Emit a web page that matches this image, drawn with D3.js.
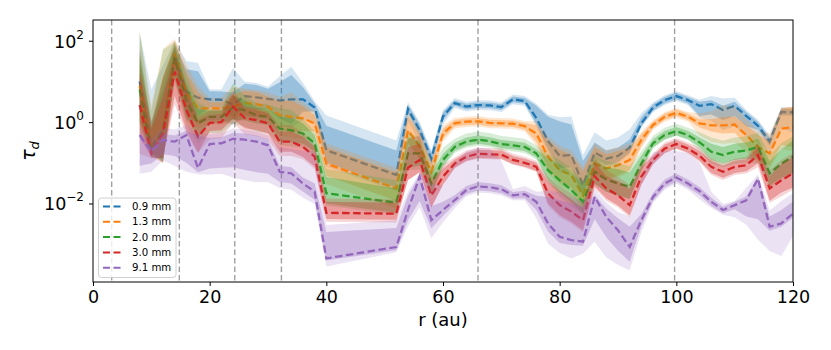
<!DOCTYPE html>
<meta charset="utf-8">
<script src="https://d3js.org/d3.v7.min.js"></script>
<style>
body { margin: 0; background: #fff; }
text { font-family: "DejaVu Sans", sans-serif; }
</style>
<div id="chart"></div>
<script>
// radius grid (au); no samples between 40 and 52
const radius = [8,10,12,14,16,18,20,22,24,26,28,30,32,34,36,38,40,
  52,54,56,58,60,62,64,66,68,70,72,74,76,78,80,82,84,86,88,90,92,94,96,98,100,102,104,106,108,110,112,114,116,118,120];

const labels = ["0.9 mm", "1.3 mm", "2.0 mm", "3.0 mm", "9.1 mm"];
const colors = ["#1f77b4", "#ff7f0e", "#2ca02c", "#d62728", "#9467bd"];
const gapRadii = [3.2, 14.8, 24.3, 32.3, 66.0, 99.7];

// log10 of tau_d
const logTau09 = [1.0,-0.6,-0.2,1.65,0.75,0.6,0.56,0.55,0.43,0.64,0.61,0.57,0.53,0.56,0.56,0.36,-0.69,
  -1.3,0.32,-0.2,-0.9,0.14,0.47,0.38,0.42,0.41,0.37,0.56,0.52,0.1,-0.47,-0.83,-0.81,-1.55,-0.75,-0.9,-0.83,-0.63,-0.03,0.36,0.54,0.64,0.54,0.4,0.44,0.3,0.4,0.15,-0.09,-0.48,0.25,0.24];
const logTau13 = [0.9,-0.7,-0.2,1.69,0.72,0.34,0.34,0.34,0.38,0.47,0.44,0.38,0.17,0.13,0.09,-0.03,-1.02,
  -1.63,-0.2,-0.6,-1.22,-0.28,-0.03,0.01,0.02,-0.02,-0.03,-0.04,-0.1,-0.28,-0.85,-1.18,-1.3,-1.8,-1.02,-1.14,-1.06,-0.93,-0.44,-0.07,0.13,0.23,0.13,-0.03,-0.08,-0.08,-0.06,-0.32,-0.61,-0.77,-0.16,-0.12];
const logTau20 = [0.8,-0.72,-0.22,1.57,0.54,-0.03,0.13,0.13,0.36,0.29,0.17,0.13,-0.16,-0.2,-0.28,-0.52,-1.75,
  -1.98,-0.77,-0.77,-1.51,-0.93,-0.61,-0.48,-0.43,-0.47,-0.54,-0.57,-0.61,-0.77,-1.18,-1.43,-1.67,-1.96,-1.22,-1.41,-1.51,-1.59,-1.02,-0.52,-0.32,-0.22,-0.32,-0.5,-0.73,-0.81,-0.73,-0.7,-0.61,-1.26,-1.02,-0.85];
const logTau30 = [0.42,-0.77,-0.28,1.24,0.3,-0.36,-0.02,0.0,0.38,0.1,0.05,-0.03,-0.48,-0.48,-0.61,-0.85,-2.23,
  -2.25,-1.12,-0.93,-1.8,-1.34,-1.02,-0.85,-0.78,-0.79,-0.8,-0.93,-1.0,-1.1,-1.75,-2.04,-2.2,-2.41,-1.33,-1.63,-1.8,-2.04,-1.34,-0.93,-0.65,-0.54,-0.65,-0.83,-1.1,-1.22,-1.1,-1.06,-0.81,-1.63,-1.43,-1.26];
const logTau91 = [-0.32,-0.72,-0.44,-0.48,-0.32,-1.13,-0.54,-0.52,-0.41,-0.43,-0.48,-0.57,-1.22,-1.26,-1.51,-1.71,-3.35,
  -3.07,-2.16,-1.34,-2.41,-2.16,-1.92,-1.67,-1.58,-1.6,-1.65,-1.8,-1.77,-1.96,-2.49,-2.82,-2.9,-2.94,-1.84,-2.33,-2.66,-3.07,-2.41,-1.84,-1.51,-1.36,-1.51,-1.7,-1.96,-2.16,-2.04,-1.92,-1.39,-2.57,-2.49,-2.25];

// band extents in dex above/below the line: inner (1) and outer (2)
const up1_09 = [0.8,0.6,1.0,0.25,0.55,0.65,0.2,0.2,0.3,0.3,0.3,0.25,0.45,0.6,0.3,0.1,0.6,
  0.6,0.1,0.15,0.15,0.1,0.07,0.07,0.07,0.07,0.07,0.07,0.07,0.3,0.6,0.85,0.75,0.6,0.25,0.2,0.2,0.2,0.15,0.08,0.08,0.08,0.08,0.1,0.1,0.1,0.1,0.1,0.1,0.1,0.08,0.08];
const dn1_09 = [0.8,0.1,0.8,0.25,0.55,0.45,0.2,0.2,0.3,0.3,0.3,0.25,0.45,0.6,0.3,0.1,0.3,
  0.3,0.1,0.15,0.15,0.1,0.07,0.07,0.07,0.07,0.07,0.07,0.07,0.15,0.2,0.3,0.3,0.25,0.15,0.15,0.15,0.12,0.08,0.08,0.08,0.08,0.08,0.25,0.25,0.25,0.25,0.25,0.1,0.1,0.08,0.08];
const up2_09 = [1.2,1.4,1.6,0.35,0.75,0.85,0.25,0.25,0.9,0.35,0.35,0.3,0.6,0.8,0.4,0.15,0.85,
  0.85,0.17,0.2,0.2,0.15,0.12,0.12,0.12,0.12,0.12,0.12,0.12,0.35,0.65,0.95,0.95,0.74,0.5,0.45,0.45,0.45,0.25,0.12,0.12,0.12,0.12,0.15,0.2,0.28,0.2,0.15,0.15,0.15,0.12,0.12];
const dn2_09 = [1.0,0.15,0.8,0.5,0.7,0.6,0.5,0.5,0.5,0.5,0.5,0.5,0.6,0.7,0.5,0.4,0.4,
  0.4,0.3,0.3,0.3,0.2,0.12,0.12,0.12,0.12,0.12,0.12,0.12,0.2,0.3,0.4,0.4,0.3,0.2,0.2,0.2,0.15,0.1,0.12,0.12,0.12,0.12,0.3,0.4,0.5,0.5,0.5,0.4,0.3,0.4,0.5];

const up1_13 = [0.8,0.6,1.3,0.3,0.5,0.4,0.15,0.15,0.3,0.3,0.3,0.25,0.35,0.4,0.3,0.2,0.4,
  0.4,0.35,0.3,0.2,0.12,0.08,0.08,0.08,0.08,0.08,0.08,0.08,0.2,0.4,0.5,0.5,0.6,0.4,0.35,0.35,0.3,0.15,0.08,0.08,0.08,0.08,0.1,0.15,0.2,0.2,0.25,0.3,0.3,0.5,0.5];
const dn1_13 = [0.8,0.1,0.8,0.5,0.5,0.4,0.15,0.15,0.3,0.3,0.3,0.25,0.35,0.4,0.3,0.2,0.3,
  0.3,0.3,0.3,0.2,0.12,0.08,0.08,0.08,0.08,0.08,0.08,0.08,0.2,0.3,0.3,0.3,0.3,0.25,0.25,0.25,0.25,0.15,0.08,0.08,0.08,0.08,0.1,0.15,0.2,0.2,0.25,0.3,0.3,0.4,0.5];
const up2_13 = [1.3,1.1,2.0,0.35,0.7,0.55,0.25,0.25,0.5,0.35,0.35,0.35,0.45,0.6,0.4,0.3,0.5,
  0.5,0.45,0.4,0.3,0.2,0.13,0.13,0.13,0.13,0.13,0.13,0.13,0.3,0.5,0.6,0.6,0.7,0.5,0.45,0.45,0.4,0.2,0.12,0.12,0.12,0.12,0.25,0.35,0.5,0.45,0.4,0.4,0.5,0.5,0.5];
const dn2_13 = [1.0,0.15,0.8,0.6,0.7,0.5,0.4,0.4,0.4,0.4,0.4,0.4,0.5,0.5,0.5,0.4,0.5,
  0.5,0.35,0.3,0.3,0.2,0.13,0.13,0.13,0.13,0.13,0.13,0.13,0.3,0.4,0.4,0.4,0.4,0.3,0.3,0.3,0.3,0.2,0.12,0.12,0.12,0.12,0.3,0.4,0.45,0.45,0.4,0.4,0.4,0.5,0.6];

const up1_20 = [0.8,0.6,1.3,0.3,0.4,0.35,0.15,0.15,0.3,0.25,0.2,0.2,0.3,0.3,0.25,0.2,0.4,
  0.35,0.4,0.3,0.25,0.15,0.1,0.1,0.1,0.1,0.1,0.1,0.1,0.1,0.3,0.4,0.45,0.4,0.3,0.3,0.35,0.35,0.2,0.1,0.1,0.1,0.1,0.12,0.2,0.2,0.2,0.2,0.2,0.3,0.35,0.4];
const dn1_20 = [0.8,0.1,0.7,0.5,0.4,0.35,0.15,0.15,0.3,0.25,0.2,0.2,0.3,0.3,0.25,0.2,0.25,
  0.25,0.35,0.3,0.25,0.15,0.1,0.1,0.1,0.1,0.1,0.1,0.1,0.1,0.25,0.3,0.3,0.3,0.3,0.3,0.3,0.3,0.15,0.1,0.1,0.1,0.1,0.12,0.2,0.2,0.2,0.2,0.3,0.3,0.35,0.4];
const up2_20 = [1.4,1.0,2.0,0.4,0.6,0.5,0.2,0.2,0.6,0.35,0.3,0.3,0.5,0.5,0.35,0.3,0.6,
  0.55,0.5,0.4,0.4,0.3,0.2,0.2,0.2,0.2,0.2,0.2,0.2,0.2,0.4,0.5,0.55,0.5,0.4,0.45,0.5,0.5,0.3,0.18,0.18,0.18,0.18,0.25,0.35,0.35,0.35,0.35,0.35,0.45,0.5,0.5];
const dn2_20 = [1.0,0.15,0.7,0.6,0.6,0.5,0.4,0.4,0.4,0.4,0.4,0.4,0.4,0.4,0.35,0.3,0.3,
  0.3,0.4,0.4,0.3,0.2,0.15,0.15,0.15,0.15,0.15,0.15,0.15,0.15,0.3,0.4,0.4,0.3,0.3,0.3,0.3,0.3,0.2,0.12,0.12,0.12,0.12,0.2,0.3,0.3,0.3,0.3,0.4,0.35,0.4,0.4];

const up1_30 = [0.8,0.6,0.9,0.4,0.5,0.4,0.2,0.2,0.3,0.25,0.25,0.25,0.25,0.25,0.25,0.25,0.27,
  0.27,0.5,0.4,0.35,0.2,0.1,0.1,0.1,0.1,0.1,0.1,0.1,0.1,0.3,0.35,0.3,0.3,0.35,0.3,0.35,0.4,0.25,0.1,0.1,0.1,0.1,0.12,0.15,0.15,0.15,0.15,0.2,0.3,0.4,0.4];
const dn1_30 = [0.8,0.1,0.6,0.6,0.5,0.4,0.2,0.2,0.3,0.25,0.25,0.25,0.25,0.25,0.25,0.25,0.15,
  0.15,0.3,0.3,0.3,0.2,0.1,0.1,0.1,0.1,0.1,0.1,0.1,0.1,0.25,0.25,0.25,0.25,0.25,0.25,0.25,0.25,0.2,0.1,0.1,0.1,0.1,0.12,0.15,0.15,0.15,0.15,0.2,0.3,0.3,0.35];
const up2_30 = [1.0,0.8,1.4,0.6,0.6,0.5,0.3,0.3,0.4,0.3,0.3,0.3,0.4,0.4,0.35,0.3,0.35,
  0.35,0.7,0.6,0.45,0.3,0.15,0.15,0.15,0.15,0.15,0.15,0.15,0.15,0.4,0.45,0.45,0.4,0.45,0.45,0.45,0.5,0.35,0.15,0.15,0.15,0.15,0.2,0.2,0.2,0.2,0.2,0.3,0.45,0.5,0.5];
const dn2_30 = [1.2,0.12,0.6,0.8,0.6,0.4,0.4,0.4,0.4,0.4,0.4,0.4,0.35,0.35,0.3,0.3,0.22,
  0.22,0.3,0.3,0.3,0.2,0.12,0.12,0.12,0.12,0.12,0.12,0.12,0.12,0.3,0.3,0.3,0.3,0.3,0.3,0.3,0.3,0.2,0.12,0.12,0.12,0.12,0.15,0.2,0.2,0.2,0.2,0.3,0.35,0.4,0.4];

const up1_91 = [0.05,0.1,0.15,0.15,0.1,0.8,0.15,0.15,0.15,0.15,0.15,0.15,0.15,0.15,0.15,0.2,0.65,
  0.47,0.35,0.05,0.35,0.2,0.12,0.1,0.1,0.1,0.1,0.08,0.08,0.15,0.65,0.9,0.9,0.86,0.05,0.2,0.3,0.5,0.15,0.1,0.1,0.1,0.1,0.1,0.1,0.08,0.08,0.1,0.05,0.25,0.33,0.3];
const dn1_91 = [0.75,0.3,0.35,0.35,0.68,0.1,0.6,0.6,0.7,0.75,0.75,0.7,0.25,0.25,0.2,0.2,0.05,
  0.08,0.25,0.6,0.2,0.15,0.1,0.1,0.1,0.1,0.1,0.08,0.1,0.2,0.2,0.15,0.12,0.1,0.55,0.5,0.5,0.36,0.15,0.1,0.1,0.1,0.1,0.1,0.1,0.08,0.1,0.4,1.0,0.1,0.08,0.1];
const up2_91 = [0.2,0.3,0.3,0.3,0.25,0.85,0.25,0.25,0.25,0.25,0.25,0.25,0.6,0.6,0.8,1.0,0.82,
  0.66,0.45,0.1,0.9,0.6,0.9,0.95,0.95,0.95,0.7,0.15,0.2,0.25,0.8,1.1,1.05,1.0,0.2,0.35,0.45,0.75,1.0,1.1,0.8,0.65,0.75,0.7,0.25,0.15,0.1,0.3,0.1,0.4,0.55,0.5];
const dn2_91 = [0.95,0.5,0.5,0.6,0.9,0.15,0.75,0.75,0.95,1.0,1.0,0.9,0.4,0.4,0.35,0.3,0.2,
  0.13,0.4,0.75,0.45,0.3,0.2,0.15,0.15,0.15,0.15,0.12,0.15,0.4,0.5,0.4,0.45,0.29,1.1,1.0,0.85,0.57,0.3,0.15,0.15,0.15,0.15,0.2,0.15,0.12,0.3,0.6,1.5,0.6,0.8,0.55];

const series = [
  {mid: logTau09, up1: up1_09, dn1: dn1_09, up2: up2_09, dn2: dn2_09},
  {mid: logTau13, up1: up1_13, dn1: dn1_13, up2: up2_13, dn2: dn2_13},
  {mid: logTau20, up1: up1_20, dn1: dn1_20, up2: up2_20, dn2: dn2_20},
  {mid: logTau30, up1: up1_30, dn1: dn1_30, up2: up2_30, dn2: dn2_30},
  {mid: logTau91, up1: up1_91, dn1: dn1_91, up2: up2_91, dn2: dn2_91},
];

const width = 831, height = 350;
const plot = {left: 93, right: 793, top: 20, bottom: 282};

const svg = d3.select('#chart').append('svg')
  .attr('width', width).attr('height', height);

const x = d3.scaleLinear().domain([0, 120]).range([plot.left, plot.right]);
const y = d3.scaleLog().domain([Math.pow(10, -3.93), Math.pow(10, 2.51)]).range([plot.bottom, plot.top]);

svg.append('clipPath').attr('id', 'clip')
  .append('rect')
  .attr('x', plot.left).attr('y', plot.top)
  .attr('width', plot.right - plot.left).attr('height', plot.bottom - plot.top);

const g = svg.append('g').attr('clip-path', 'url(#clip)');

// vertical dashed markers
g.selectAll('line.gap')
  .data(gapRadii)
  .join('line')
  .attr('class', 'gap')
  .attr('x1', d => x(d)).attr('x2', d => x(d))
  .attr('y1', plot.top).attr('y2', plot.bottom)
  .attr('stroke', '#a0a0a0')
  .attr('stroke-width', 1.4)
  .attr('stroke-dasharray', '5.5,3');

const p10 = v => Math.pow(10, v);

series.forEach((s, i) => {
  const pts = radius.map((rv, j) => ({
    r: rv,
    m: p10(s.mid[j]),
    lo1: p10(s.mid[j] - s.dn1[j]), hi1: p10(s.mid[j] + s.up1[j]),
    lo2: p10(s.mid[j] - s.dn2[j]), hi2: p10(s.mid[j] + s.up2[j]),
  }));
  const outer = d3.area().x(d => x(d.r)).y0(d => y(d.lo2)).y1(d => y(d.hi2));
  const inner = d3.area().x(d => x(d.r)).y0(d => y(d.lo1)).y1(d => y(d.hi1));
  const line = d3.line().x(d => x(d.r)).y(d => y(d.m));

  g.append('path').datum(pts)
    .attr('d', outer)
    .attr('fill', colors[i]).attr('fill-opacity', 0.19);
  g.append('path').datum(pts)
    .attr('d', inner)
    .attr('fill', colors[i]).attr('fill-opacity', 0.33);
  g.append('path').datum(pts)
    .attr('d', line)
    .attr('fill', 'none')
    .attr('stroke', colors[i])
    .attr('stroke-width', 2.3)
    .attr('stroke-dasharray', '7.5,3.5');
});

// frame
svg.append('rect')
  .attr('x', plot.left).attr('y', plot.top)
  .attr('width', plot.right - plot.left).attr('height', plot.bottom - plot.top)
  .attr('fill', 'none').attr('stroke', '#000').attr('stroke-width', 1);

// x axis
const xAxis = svg.append('g')
  .attr('transform', `translate(0,${plot.bottom})`)
  .call(d3.axisBottom(x).tickValues([0, 20, 40, 60, 80, 100, 120]).tickSizeOuter(0).tickSize(4).tickPadding(5));
xAxis.select('.domain').remove();
xAxis.selectAll('text').attr('font-size', 17.5).attr('fill', '#000')
  .attr('font-family', '"DejaVu Sans", sans-serif');

// y axis with 10^n labels
const yTicks = [1e-2, 1, 1e2];
const yAxis = svg.append('g')
  .attr('transform', `translate(${plot.left},0)`)
  .call(d3.axisLeft(y).tickValues(yTicks).tickSize(4).tickFormat(''));
yAxis.select('.domain').remove();
yAxis.selectAll('.tick').each(function(d) {
  const e = Math.round(Math.log10(d));
  const t = d3.select(this).append('text')
    .attr('x', -9).attr('dy', '0.36em')
    .attr('text-anchor', 'end')
    .attr('fill', '#000')
    .attr('font-size', 17.5);
  t.append('tspan').text('10');
  t.append('tspan')
    .attr('font-size', 12)
    .attr('dy', '-0.75em')
    .text(e < 0 ? '\u2212' + (-e) : String(e));
});

// axis labels
svg.append('text')
  .attr('x', (plot.left + plot.right) / 2).attr('y', 326)
  .attr('text-anchor', 'middle')
  .attr('font-size', 18)
  .text('r (au)');

const yl = svg.append('text')
  .attr('transform', `translate(35,${(plot.top + plot.bottom) / 2}) rotate(-90)`)
  .attr('text-anchor', 'middle')
  .attr('font-size', 19);
yl.append('tspan').attr('font-style', 'italic').text('\u03c4');
yl.append('tspan').attr('font-style', 'italic').attr('font-size', 13).attr('dy', '0.3em').text('d');

// legend
const leg = svg.append('g').attr('transform', 'translate(98.5,198)');
leg.append('rect')
  .attr('width', 77.5).attr('height', 79.5)
  .attr('rx', 3)
  .attr('fill', '#fff').attr('fill-opacity', 0.8)
  .attr('stroke', '#d0d0d0').attr('stroke-width', 1);
labels.forEach((lab, i) => {
  const yy = 8.5 + i * 15.3;
  leg.append('line')
    .attr('x1', 4.5).attr('x2', 23.5).attr('y1', yy).attr('y2', yy)
    .attr('stroke', colors[i]).attr('stroke-width', 2)
    .attr('stroke-dasharray', '7,3.5');
  leg.append('text')
    .attr('x', 33.5).attr('y', yy).attr('dy', '0.36em')
    .attr('font-size', 10.2)
    .text(lab);
});
</script>
